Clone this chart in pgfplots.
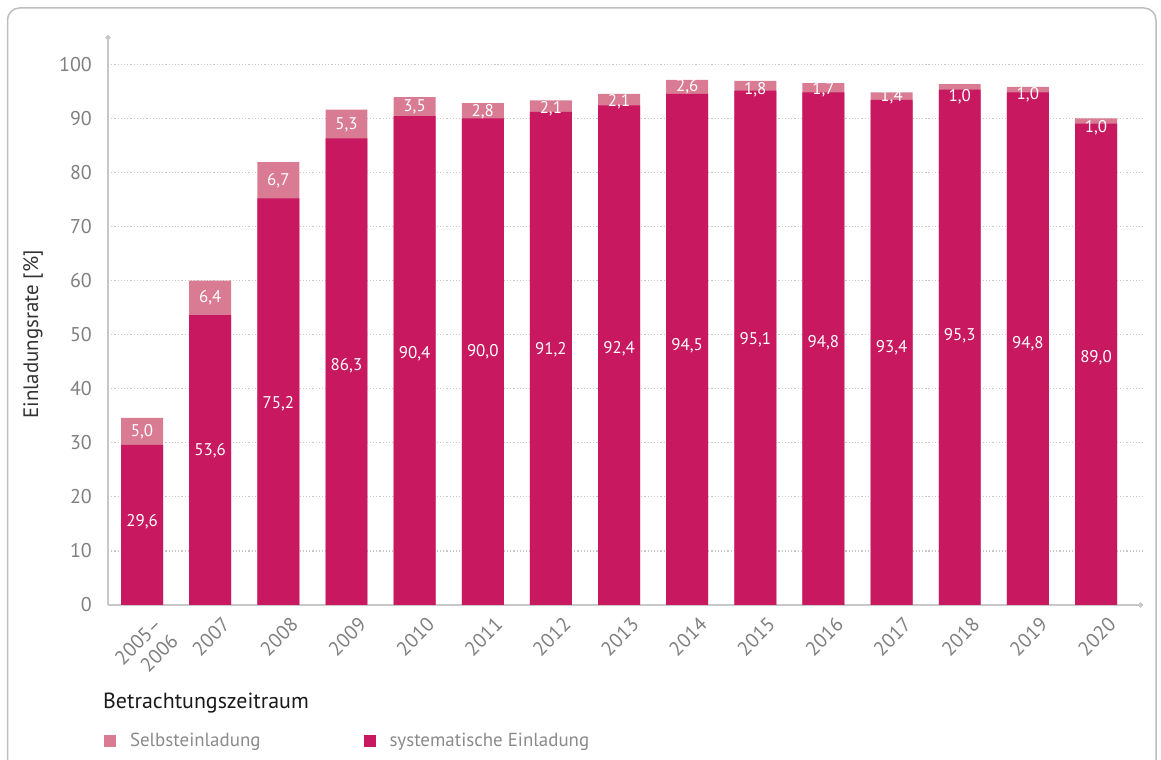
\documentclass[border=0pt]{standalone}
\usepackage{fontspec}
\setmainfont{PT Sans}
\usepackage{pgfplots}
\usepackage{pgfplotstable}
\pgfplotsset{compat=1.18}
\usetikzlibrary{arrows.meta}
\definecolor{sysc}{HTML}{C81860}
\definecolor{selfc}{HTML}{D97B93}
\definecolor{axisgray}{HTML}{C8C8C8}
\definecolor{tickgray}{HTML}{7F7F7F}
\definecolor{legendgray}{HTML}{8A8A8A}
\definecolor{ylabc}{HTML}{333333}
\definecolor{titlec}{HTML}{1A1A1A}
\definecolor{borderc}{HTML}{BEBEBE}

\pgfplotstableread{
x  sys   self  lab   slab  ly    sly
0  29.6  5.0   29,6  5,0   15.4  32.0
1  53.6  6.4   53,6  6,4   28.5  56.9
2  75.2  6.7   75,2  6,7   37.3  78.4
3  86.3  5.3   86,3  5,3   44.2  88.8
4  90.4  3.5   90,4  3,5   46.5  92.1
5  90.0  2.8   90,0  2,8   46.8  91.3
6  91.2  2.1   91,2  2,1   47.2  91.7
7  92.4  2.1   92,4  2,1   47.3  93.0
8  94.5  2.6   94,5  2,6   47.9  95.8
9  95.1  1.8   95,1  1,8   49.0  95.2
10 94.8  1.7   94,8  1,7   48.5  95.2
11 93.4  1.4   93,4  1,4   47.6  93.9
12 95.3  1.0   95,3  1,0   49.7  93.9
13 94.8  1.0   94,8  1,0   48.4  94.4
14 89.0  1.0   89,0  1,0   45.8  88.2
}\data

\begin{document}
\begin{tikzpicture}[x=1bp,y=1bp]
\useasboundingbox (0,0) rectangle (1161,760);
\draw[color=borderc, line width=1.5bp, rounded corners=12bp] (7.5,-30) rectangle (1156,752);
\begin{axis}[
  at={(108bp,155bp)}, anchor=south west,
  scale only axis, width=1035bp, height=570bp,
  xmin=-0.5, xmax=14.69, ymin=0, ymax=105.4,
  axis x line=bottom, axis y line=left,
  axis line style={color=axisgray, line width=1.5bp, -{Circle[length=5bp]}},
  xtick=data,
  xticklabels={{2005--\\2006},2007,2008,2009,2010,2011,2012,2013,2014,2015,2016,2017,2018,2019,2020},
  ytick={0,10,...,100},
  major tick length=0pt,
  ymajorgrids,
  grid style={color=axisgray, line width=1.2bp, dotted},
  /pgf/number format/assume math mode=true,
  y tick label style={font=\fontsize{20}{24}\selectfont, text=tickgray, inner sep=0pt, xshift=-16bp},
  x tick label style={font=\fontsize{20}{23}\selectfont, text=tickgray, inner sep=0pt, align=right, xshift=11bp, yshift=-11bp, rotate=45, anchor=north east},
  ylabel={Einladungsrate [\%]},
  ylabel style={font=\fontsize{21}{25}\selectfont, text=ylabc, at={(axis description cs:-0.0725,0.4746)}, anchor=center},
  legend style={at={(axis description cs:-0.004,-0.2386)}, anchor=west, draw=none, fill=none, inner sep=0pt,
    font=\fontsize{19}{23}\selectfont, text=legendgray, legend columns=2,
    /tikz/every even column/.append style={column sep=101bp}},
]
\addplot[ybar, bar width=0.616, bar shift=0pt, fill=selfc, draw=none,
  legend image code/.code={\fill[selfc] (0bp,-6bp) rectangle (12bp,6bp); \path[draw=none,fill=none] (0bp,-6bp) rectangle (24bp,6bp);}]
  table[x=x, y expr=\thisrow{sys}+\thisrow{self}] {\data};
\addlegendentry{Selbsteinladung}
\addplot[ybar, bar width=0.616, bar shift=0pt, fill=sysc, draw=none,
  legend image code/.code={\fill[sysc] (0bp,-6bp) rectangle (12bp,6bp); \path[draw=none,fill=none] (0bp,-6bp) rectangle (24bp,6bp);}]
  table[x=x, y=sys] {\data};
\addlegendentry{systematische Einladung}
\addplot[only marks, mark=none, forget plot, nodes near coords, point meta=explicit symbolic,
  every node near coord/.append style={anchor=center, inner sep=0pt, text=white, font=\fontsize{17}{20}\selectfont}]
  table[x=x, y=sly, meta=slab] {\data};
\addplot[only marks, mark=none, forget plot, nodes near coords, point meta=explicit symbolic,
  every node near coord/.append style={anchor=center, inner sep=0pt, text=white, font=\fontsize{17}{20}\selectfont}]
  table[x=x, y=ly, meta=lab] {\data};
\end{axis}
\node[anchor=west, inner sep=0pt, text=titlec, font=\fontsize{22}{26}\selectfont] at (103,57) {Betrachtungszeitraum};
\end{tikzpicture}
\end{document}
